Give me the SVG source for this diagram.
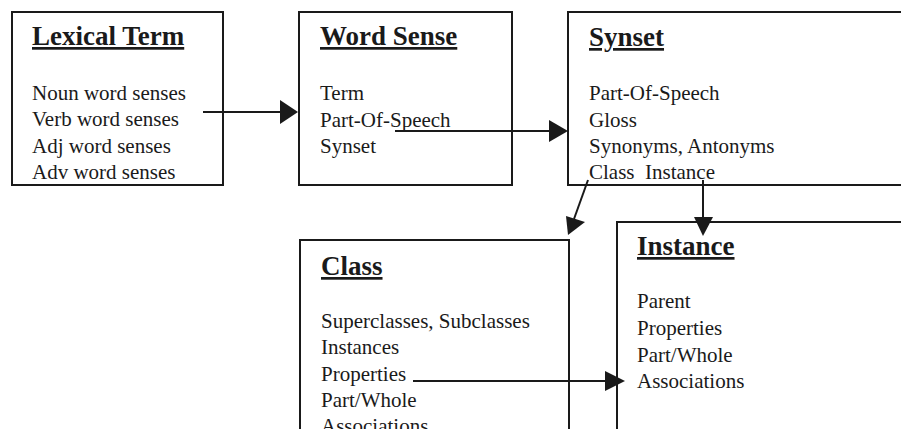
<svg xmlns="http://www.w3.org/2000/svg" width="901" height="429" viewBox="0 0 901 429">
<defs>
<style>
.box{fill:#fff;stroke:#1a1a1a;stroke-width:2}
.t{font-family:"Liberation Serif","Times New Roman",serif;font-size:27px;font-weight:bold;fill:#1a1a1a;text-decoration:underline}
.b{font-family:"Liberation Serif","Times New Roman",serif;font-size:21px;fill:#1a1a1a}
.c{stroke:#1a1a1a;stroke-width:2;fill:none}
.h{fill:#1a1a1a}
</style>
</defs>
<rect width="901" height="429" fill="#fff"/>
<g id="lexical-term">
<rect class="box" x="12" y="12" width="211" height="173"/>
<text class="t" x="32" y="45">Lexical Term</text>
<text class="b" x="32" y="100">Noun word senses</text>
<text class="b" x="32" y="126">Verb word senses</text>
<text class="b" x="32" y="153">Adj word senses</text>
<text class="b" x="32" y="179">Adv word senses</text>
</g>
<g id="word-sense">
<rect class="box" x="299" y="12" width="213" height="173"/>
<text class="t" x="320" y="45">Word Sense</text>
<text class="b" x="320" y="100">Term</text>
<text class="b" x="320" y="127">Part-Of-Speech</text>
<text class="b" x="320" y="153">Synset</text>
</g>
<g id="synset">
<rect class="box" x="568" y="12" width="400" height="173"/>
<text class="t" x="589" y="46">Synset</text>
<text class="b" x="589" y="100">Part-Of-Speech</text>
<text class="b" x="589" y="127">Gloss</text>
<text class="b" x="589" y="153">Synonyms, Antonyms</text>
<text class="b" x="589" y="179" xml:space="preserve">Class  Instance</text>
</g>
<g id="class">
<rect class="box" x="300" y="240" width="269" height="220"/>
<text class="t" x="321" y="275">Class</text>
<text class="b" x="321" y="328">Superclasses, Subclasses</text>
<text class="b" x="321" y="354">Instances</text>
<text class="b" x="321" y="381">Properties</text>
<text class="b" x="321" y="407">Part/Whole</text>
<text class="b" x="321" y="433">Associations</text>
</g>
<g id="instance">
<rect class="box" x="617" y="222" width="400" height="240"/>
<text class="t" x="637" y="255">Instance</text>
<text class="b" x="637" y="308">Parent</text>
<text class="b" x="637" y="335">Properties</text>
<text class="b" x="637" y="362">Part/Whole</text>
<text class="b" x="637" y="388">Associations</text>
</g>
<g id="connectors">
<line class="c" x1="203" y1="112" x2="282" y2="112"/>
<polygon class="h" points="298,112 280,100 280,124"/>
<line class="c" x1="395" y1="131" x2="550" y2="131"/>
<polygon class="h" points="568,131 549,120 549,142"/>
<line class="c" x1="588" y1="180" x2="574" y2="219"/>
<polygon class="h" points="568,235 566,216 585,222"/>
<line class="c" x1="703" y1="180" x2="703" y2="219"/>
<polygon class="h" points="703,236 694,217 713,217"/>
<line class="c" x1="413" y1="381" x2="607" y2="381"/>
<polygon class="h" points="625,381 605,371 605,391"/>
</g>
</svg>
